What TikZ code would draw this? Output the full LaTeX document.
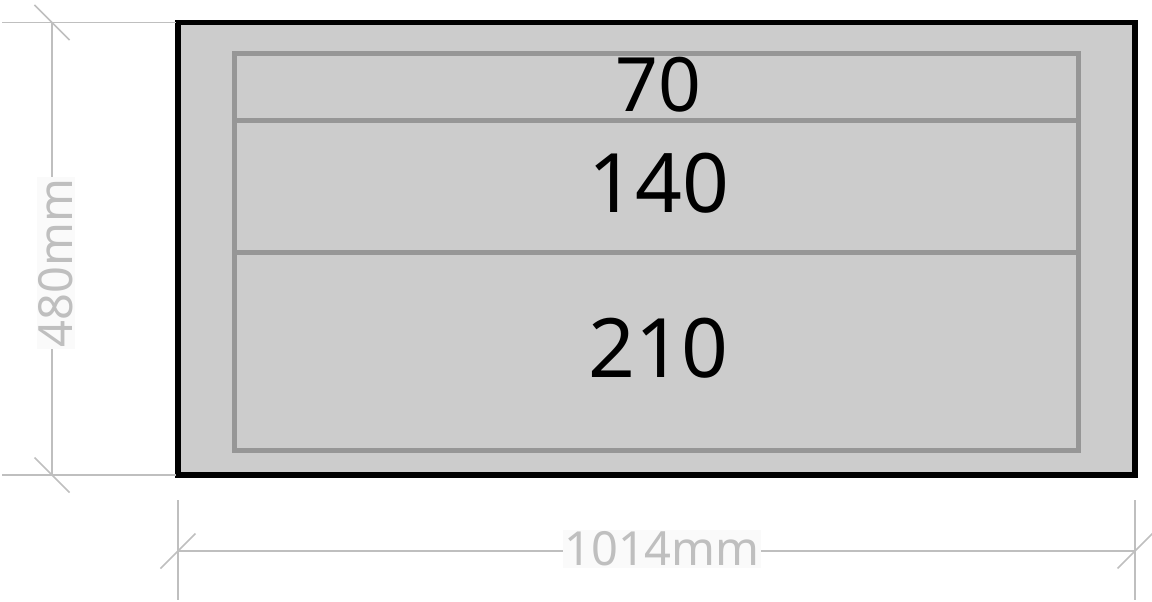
\documentclass[tikz,border=0pt]{standalone}
\usepackage{fontspec}
\setmainfont{Noto Sans}
\usetikzlibrary{calc}
\definecolor{panel}{HTML}{CCCCCC}
\definecolor{rowgray}{HTML}{969696}
\definecolor{dimgray}{HTML}{BFBFBF}
\begin{document}
\begin{tikzpicture}[x=1pt,y=-1pt,
    dimline/.style={draw=dimgray,line width=1.6pt},
    dimlabel/.style={text=dimgray,fill=black!2,inner sep=1.5pt,font=\fontsize{47}{47}\selectfont},
    rowlabel/.style={inner sep=0pt,font=\fontsize{82}{82}\selectfont}]
\useasboundingbox (0,0) rectangle (1152,602);
% panel and its rows
\draw[line width=5.5pt,fill=panel] (178,22.5) rectangle (1135,475);
\draw[line width=5pt,draw=rowgray] (234,54) rectangle (1078,450);
\draw[line width=5pt,draw=rowgray] (234,120) -- (1078,120);
\draw[line width=5pt,draw=rowgray] (234,252) -- (1078,252);
\node[rowlabel,font=\fontsize{75}{75}\selectfont] (r70) at (658,84.5) {70};
\node[rowlabel] (r140) at (659,183) {140};
\node[rowlabel] (r210) at (658.5,348) {210};
% height dimension
\coordinate (vtop) at (52,22.5);
\coordinate (vbot) at (52,475);
\node[dimlabel,rotate=90] (vlabel) at (56,263) {480mm};
\draw[dimline] (2,22.5) -- (176,22.5);
\draw[dimline] (2,475) -- (176,475);
\draw[dimline] (vtop) -- (vtop |- vlabel.east);
\draw[dimline] (vbot) -- (vbot |- vlabel.west);
\draw[dimline] ($(vtop)+(-17.5,-17.5)$) -- ($(vtop)+(17.5,17.5)$);
\draw[dimline] ($(vbot)+(-17.5,-17.5)$) -- ($(vbot)+(17.5,17.5)$);
% width dimension
\coordinate (hleft) at (178,551);
\coordinate (hright) at (1135,551);
\node[dimlabel] (hlabel) at (662,549) {1014mm};
\draw[dimline] (178,500) -- (178,600);
\draw[dimline] (1135,500) -- (1135,600);
\draw[dimline] (hleft) -- (hleft -| hlabel.west);
\draw[dimline] (hright) -- (hright -| hlabel.east);
\draw[dimline] ($(hleft)+(-17.5,17.5)$) -- ($(hleft)+(17.5,-17.5)$);
\draw[dimline] ($(hright)+(-17.5,17.5)$) -- ($(hright)+(17.5,-17.5)$);
\end{tikzpicture}
\end{document}
